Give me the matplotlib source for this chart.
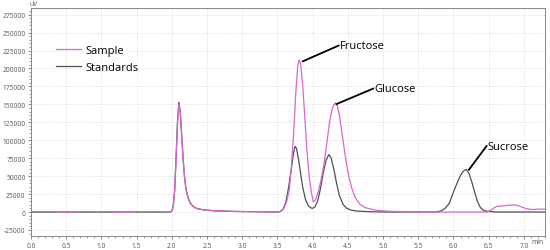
import matplotlib
matplotlib.use('Agg')
import matplotlib.pyplot as plt
import numpy as np
from matplotlib.ticker import MultipleLocator, FuncFormatter

plt.rcParams['font.family'] = ['Open Sans', 'DejaVu Sans']

# retention time (min) and signal (uV)
std_t = [0.0, 1.98, 2.00, 2.02, 2.04, 2.06, 2.08, 2.10, 2.12, 2.14, 2.16, 2.18,
         2.20, 2.23, 2.26, 2.30, 2.35, 2.45, 2.6, 2.9, 3.50, 3.54, 3.58, 3.62,
         3.66, 3.70, 3.73, 3.75, 3.77, 3.80, 3.83, 3.86, 3.90, 3.94, 3.98, 4.00,
         4.03, 4.07, 4.11, 4.15, 4.19, 4.23, 4.26, 4.30, 4.34, 4.38, 4.43, 4.48,
         4.55, 4.65, 4.8, 5.0, 5.75, 5.82, 5.88, 5.94, 6.00, 6.05, 6.10, 6.14,
         6.18, 6.22, 6.26, 6.30, 6.34, 6.38, 6.43, 6.50, 6.6, 7.3]
std_v = [0, 0, 1500, 8000, 30000, 75000, 125000, 153000, 140000, 108000, 75000, 50000,
         33000, 20000, 13000, 8000, 5000, 3000, 1800, 800, 0, 800, 4000, 14000,
         35000, 62000, 83000, 91500, 89000, 73000, 53000, 34000, 17000, 8500, 5500, 5200,
         7000, 15000, 32000, 54000, 72000, 80000, 76000, 60000, 40000, 23000, 11000, 5500,
         2500, 1200, 500, 0, 0, 1500, 5000, 12000, 28000, 40000, 51000, 57000,
         59500, 54000, 42000, 28000, 15000, 6500, 2000, 800, 0, 0]

smp_t = [0.38, 0.60, np.nan, 1.19, 1.48, np.nan, 1.90, 1.98, 2.00, 2.02, 2.04, 2.06,
         2.08, 2.10, 2.12, 2.14, 2.16, 2.18, 2.20, 2.23, 2.26, 2.30, 2.35, 2.45,
         2.6, 2.9, 3.50, 3.55, 3.59, 3.63, 3.67, 3.70, 3.73, 3.76, 3.79, 3.81,
         3.83, 3.86, 3.89, 3.92, 3.95, 3.98, 4.01, 4.04, 4.08, 4.12, 4.16, 4.20,
         4.24, 4.28, 4.32, 4.35, 4.38, 4.42, 4.46, 4.50, 4.55, 4.60, 4.67, 4.75,
         4.9, 5.1, 5.5, 6.48, 6.52, 6.57, 6.62, 6.70, 6.78, 6.85, 6.92, 6.98,
         7.04, 7.12, 7.2, 7.3]
smp_v = [0, 0, np.nan, 0, 0, np.nan, 0, 0, 1500, 7500, 29000, 73000,
         122000, 150000, 138000, 106000, 74000, 49000, 32000, 19500, 12500, 8000, 5000, 3000,
         1800, 800, 0, 1000, 5000, 14000, 32000, 66000, 110000, 165000, 205000, 212000,
         206000, 175000, 130000, 85000, 50000, 28000, 14000, 17000, 28000, 45000, 66000, 95000,
         125000, 145000, 152000, 148000, 135000, 108000, 80000, 56000, 35000, 21000, 11000, 6000,
         2500, 1000, 0, 0, 2000, 5500, 8000, 8500, 9500, 10000, 9000, 6500,
         4500, 3500, 4000, 4000]

# peak labels: text anchor and the point the leader line touches
peak_names = ['Fructose', 'Glucose', 'Sucrose']
peak_xy = [(3.86, 210000), (4.34, 150500), (6.22, 59000)]
label_xy = [(4.37, 232000), (4.86, 172000), (6.47, 92000)]

fig = plt.figure(figsize=(5.5, 2.51), dpi=100)
ax = fig.add_axes([31/550, 14/251, 514/550, 228/251])

ax.plot(std_t, std_v, color='#505050', lw=0.9, label='Standards', zorder=2)
ax.plot(smp_t, smp_v, color='#d768cc', lw=0.9, label='Sample', zorder=3)

for name, (px, py), (lx, ly) in zip(peak_names, peak_xy, label_xy):
    ax.plot([px, lx], [py, ly], color='black', lw=1.3, zorder=4)
    ax.text(lx + 0.02, ly, name, fontsize=8, ha='left', va='center', zorder=5)

ax.set_xlim(0, 7.3)
ax.set_ylim(-33400, 284300)
ax.xaxis.set_major_locator(MultipleLocator(0.5))
ax.xaxis.set_minor_locator(MultipleLocator(0.1))
ax.yaxis.set_major_locator(MultipleLocator(25000))
ax.yaxis.set_minor_locator(MultipleLocator(5000))
ax.xaxis.set_major_formatter(FuncFormatter(lambda v, p: '{:.1f}'.format(v)))
ax.yaxis.set_major_formatter(FuncFormatter(lambda v, p: '{:d}'.format(int(round(v)))))
ax.tick_params(which='major', length=2.5, width=0.6, color='#777', labelsize=4.8,
               labelcolor='#555', pad=1.5)
ax.tick_params(which='minor', length=1.5, width=0.5, color='#777')
ax.grid(True, which='major', color='#dcdcdc', ls=':', lw=0.7)
for s in ax.spines.values():
    s.set_color('#888')
    s.set_linewidth(0.7)

fig.text(30/550, 1 - 5/251, 'uV', fontsize=4.8, color='#555', ha='left', va='center')
fig.text(537/550, 1 - 243/251, 'min', fontsize=4.8, color='#555', ha='center', va='center')

handles, labels = ax.get_legend_handles_labels()
ax.legend(handles[::-1], labels[::-1], loc='upper left', bbox_to_anchor=(0.03, 0.88),
          frameon=False, fontsize=8, handlelength=2.2, handletextpad=0.4,
          labelspacing=0.5)

fig.savefig('out.png', dpi=100)
